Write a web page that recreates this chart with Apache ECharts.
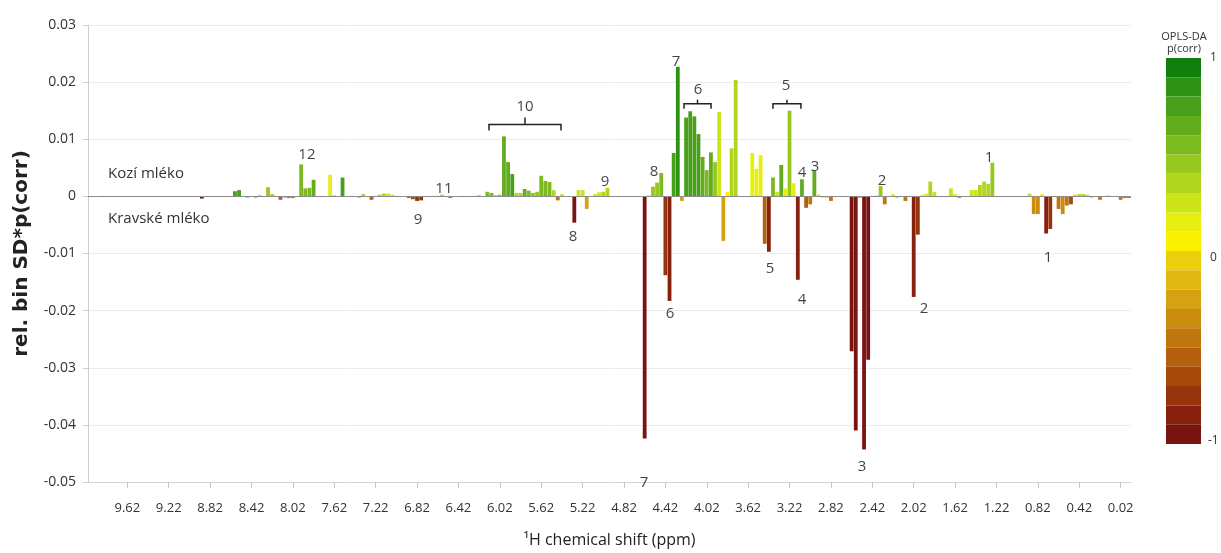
<!DOCTYPE html>
<html><head><meta charset="utf-8">
<script src="https://cdn.jsdelivr.net/npm/echarts@6/dist/echarts.min.js"></script>
<style>html,body{margin:0;padding:0;background:#fff}#c{width:1221px;height:553px}</style>
</head><body><div id="c"></div>
<script>
// bins of 0.04 ppm, from 9.98 ppm (left) down to -0.06 ppm (right)
const binStart = 9.98, binStep = 0.04, binCount = 252;
const categories = [];
for (let i = 0; i < binCount; i++) categories.push((binStart - binStep * i).toFixed(2));

const xTickLabels = ['9.62','9.22','8.82','8.42','8.02','7.62','7.22','6.82','6.42','6.02','5.62','5.22','4.82','4.42','4.02','3.62','3.22','2.82','2.42','2.02','1.62','1.22','0.82','0.42','0.02'];

// rel. bin SD * p(corr), one value per bin
const values = [
  0, -0.0001, 0, 0.0001, 0, -0.0001, 0, -0.0001, 0, 0.0001,
  0, -0.0001, 0, 0.0001, 0, 0, 0, 0, 0, 0,
  0, 0, 0, 0, 0, 0, -0.0001, -0.0004, 0, 0,
  0, 0, 0, 0, 0, 0.0009, 0.0011, 0.0001, -0.0002, -0.0001,
  -0.0002, 0.0002, -0.0001, 0.0016, 0.0004, 0.0001, -0.0006, -0.0002, -0.0003, -0.0003,
  0, 0.0056, 0.0014, 0.0015, 0.0029, 0, 0.0001, 0, 0.0038, 0.0002,
  0, 0.0033, 0, 0.0001, 0, -0.0002, 0.0004, 0, -0.0006, 0.0001,
  0.0003, 0.0005, 0.0005, 0.0003, 0.0001, 0, -0.0001, -0.0003, -0.0005, -0.0008,
  -0.0007, 0, 0, 0.0001, 0.0001, 0.0003, 0, -0.0003, 0, 0,
  0.0001, 0, 0.0001, 0.0001, 0.0002, 0, 0.0008, 0.0006, 0.0002, 0.0003,
  0.0105, 0.006, 0.0039, 0.0006, 0.0006, 0.0013, 0.001, 0.0006, 0.0008, 0.0036,
  0.0027, 0.0025, 0.0011, -0.0007, 0.0004, 0, -0.0001, -0.0046, 0.0011, 0.0011,
  -0.0022, 0.0001, 0.0004, 0.0007, 0.0008, 0.0015, 0, 0, 0, 0,
  0, 0, 0, 0, -0.0424, 0.0002, 0.0017, 0.0024, 0.0041, -0.0138,
  -0.0183, 0.0076, 0.0227, -0.0008, 0.0138, 0.0149, 0.014, 0.0109, 0.0069, 0.0046,
  0.0077, 0.006, 0.0148, -0.0078, 0.0008, 0.0084, 0.0204, 0, 0, 0,
  0.0076, 0.0048, 0.0072, -0.0083, -0.0097, 0.0033, 0.0008, 0.0055, 0.0014, 0.015,
  0.0023, -0.0146, 0.003, -0.002, -0.0014, 0.0045, 0.0003, -0.0002, -0.0002, -0.0008,
  0, -0.0001, 0, 0, -0.0271, -0.041, -0.0003, -0.0443, -0.0286, 0.0001,
  0.0002, 0.0018, -0.0014, 0.0001, 0.0004, -0.0002, 0.0001, -0.0008, 0.0001, -0.0176,
  -0.0067, 0.0003, 0.0005, 0.0026, 0.0008, 0.0001, 0, 0.0001, 0.0014, 0.0004,
  -0.0003, 0, 0, 0.0011, 0.0011, 0.002, 0.0026, 0.0022, 0.0059, 0,
  0, 0, 0, 0, 0, 0, 0, 0.0005, -0.0031, -0.0031,
  0.0004, -0.0065, -0.0057, -0.0001, -0.0022, -0.0031, -0.0016, -0.0014, 0.0003, 0.0004,
  0.0004, 0.0003, -0.0002, 0, -0.0006, 0, 0.0002, 0, 0, -0.0006,
  -0.0003, -0.0003
];

// OPLS-DA p(corr), one value per bin (drives bar colour)
const pcorr = [
  0, -0.6, 0, 0.3, 0, -0.6, 0, -0.6, 0, 0.3,
  0, -0.6, 0, 0.3, 0, 0, 0, 0, 0, 0,
  0, 0, 0, 0, 0, 0, -0.7, -0.85, 0, 0,
  0, 0, 0, 0, 0, 0.72, 0.72, 0.3, -0.4, -0.3,
  -0.4, 0.4, -0.3, 0.5, 0.4, 0.3, -0.5, -0.4, -0.45, -0.4,
  0, 0.6, 0.55, 0.55, 0.65, 0, 0.3, 0, 0.12, 0.3,
  0, 0.75, 0, 0.3, 0, -0.4, 0.4, 0, -0.55, 0.3,
  0.4, 0.35, 0.3, 0.25, 0.3, 0, -0.3, -0.5, -0.6, -0.7,
  -0.75, 0, 0, 0.3, 0.3, 0.35, 0, -0.4, 0, 0,
  0.3, 0, 0.3, 0.3, 0.4, 0, 0.55, 0.55, 0.4, 0.5,
  0.62, 0.62, 0.72, 0.4, 0.4, 0.7, 0.6, 0.45, 0.5, 0.55,
  0.55, 0.55, 0.4, -0.45, 0.3, 0, -0.3, -0.9, 0.3, 0.3,
  -0.2, 0.2, 0.3, 0.3, 0.35, 0.4, 0, 0, 0, 0,
  0, 0, 0, 0, -0.9, 0.15, 0.45, 0.5, 0.6, -0.75,
  -0.85, 0.78, 0.88, -0.2, 0.8, 0.78, 0.78, 0.72, 0.68, 0.55,
  0.7, 0.5, 0.25, -0.25, 0.1, 0.4, 0.38, 0, 0, 0,
  0.15, 0.12, 0.15, -0.55, -0.85, 0.6, 0.25, 0.7, 0.2, 0.45,
  0.15, -0.88, 0.65, -0.55, -0.45, 0.68, 0.3, -0.1, -0.1, -0.4,
  0, -0.3, 0, 0, -0.9, -0.92, -0.1, -0.93, -0.9, 0.1,
  0.1, 0.45, -0.45, 0.1, 0.15, -0.2, 0.1, -0.4, 0.1, -0.88,
  -0.75, 0.1, 0.15, 0.4, 0.3, 0.1, 0, 0.1, 0.3, 0.2,
  -0.2, 0, 0, 0.25, 0.25, 0.35, 0.35, 0.35, 0.45, 0,
  0, 0, 0, 0, 0, 0, 0, 0.3, -0.3, -0.3,
  0.1, -0.85, -0.72, -0.3, -0.4, -0.35, -0.4, -0.6, 0.3, 0.35,
  0.35, 0.3, -0.2, 0, -0.4, 0, 0.2, 0, 0, -0.4,
  -0.4, -0.4
];

// peak number labels: [ppm, value, text]
const peakLabels = [
  [7.884, 0.0073, '12'], [6.560, 0.0014, '11'], [5.777, 0.0157, '10'],
  [6.811, -0.0041, '9'], [5.004, 0.0026, '9'],
  [4.530, 0.0044, '8'], [5.313, -0.0070, '8'],
  [4.318, 0.0235, '7'], [4.627, -0.0502, '7'],
  [4.105, 0.0186, '6'], [4.376, -0.0205, '6'],
  [3.255, 0.0193, '5'], [3.409, -0.0126, '5'],
  [3.100, 0.0042, '4'], [3.100, -0.0181, '4'],
  [2.974, 0.0052, '3'], [2.520, -0.0474, '3'],
  [2.327, 0.0028, '2'], [1.921, -0.0197, '2'],
  [1.293, 0.0068, '1'], [0.722, -0.0107, '1']
];

// brackets: [ppm start, ppm end, line value, leg value, tick value]
const brackets = [
  [6.125, 5.429, 0.01259, 0.01155, 0.0138],
  [4.240, 3.979, 0.01623, 0.01536, 0.01693],
  [3.380, 3.110, 0.01623, 0.01536, 0.01693]
];

// colour scale, from p(corr) = -1 to +1 (20 steps)
const colorSteps = [
  '#7a1410', '#88200e', '#97340c', '#a64a0c', '#b4600c',
  '#c0760e', '#cb8c10', '#d6a214', '#e0b814', '#ebcf0c',
  '#fbf200', '#e6ef10', '#cce41a', '#b2d61e', '#98c820',
  '#7cba20', '#62ac1e', '#489f1a', '#2e9214', '#107f0c'
];
const pieces = colorSteps.map((c, k) => ({ gt: -1 + 0.1 * k - (k === 0 ? 0.001 : 0), lte: -1 + 0.1 * (k + 1), color: c }));

const chart = echarts.init(document.getElementById('c'));
const font = 'Open Sans';
const showTick = (i, v) => xTickLabels.includes(v);

chart.setOption({
  animation: false,
  grid: { left: 88, right: 90, top: 25, bottom: 67 },
  xAxis: [{
    type: 'category', data: categories, boundaryGap: true,
    axisLine: { show: true, onZero: false, lineStyle: { color: '#d4d4d4' } },
    axisTick: { show: true, alignWithLabel: true, interval: showTick, length: 6, lineStyle: { color: '#c8c8c8' } },
    axisLabel: { interval: showTick, margin: 20, fontSize: 13, color: '#333', fontFamily: font },
    splitLine: { show: false },
    name: '\u00b9H chemical shift (ppm)', nameLocation: 'middle', nameGap: 50,
    nameTextStyle: { fontSize: 16, color: '#222', fontFamily: font }
  }, {
    type: 'value', min: -0.08, max: 10.0, inverse: true, show: false,
    splitLine: { show: false }, axisLine: { show: false, onZero: false }
  }],
  yAxis: {
    type: 'value', min: -0.05, max: 0.03, interval: 0.01,
    axisLine: { show: true, onZero: false, lineStyle: { color: '#cfcfcf' } },
    axisTick: { show: true, length: 5, lineStyle: { color: '#cfcfcf' } },
    axisLabel: { fontSize: 14, color: '#333', margin: 12, fontFamily: font },
    splitLine: { lineStyle: { color: '#ececec' } },
    name: 'rel. bin SD*p(corr)', nameLocation: 'middle', nameGap: 56,
    nameTextStyle: { fontSize: 20, fontWeight: 'bold', color: '#222', fontFamily: 'DejaVu Sans' }
  },
  visualMap: {
    type: 'piecewise', dimension: 2, seriesIndex: 0, pieces: pieces,
    orient: 'vertical', right: 20, top: 58, itemWidth: 35, itemHeight: 19.3, itemGap: 0,
    itemSymbol: 'rect', showLabel: false, padding: 0, selectedMode: false, hoverLink: false
  },
  graphic: [
    { type: 'text', x: 108, y: 174, style: { text: 'Kozí mléko', fontSize: 15, fill: '#333', fontFamily: font, verticalAlign: 'middle' } },
    { type: 'text', x: 108, y: 219, style: { text: 'Kravské mléko', fontSize: 15, fill: '#333', fontFamily: font, verticalAlign: 'middle' } },
    { type: 'text', x: 1184, y: 37, style: { text: 'OPLS-DA', fontSize: 11, fill: '#333', fontFamily: font, align: 'center', verticalAlign: 'middle' } },
    { type: 'text', x: 1184, y: 49, style: { text: 'p(corr)', fontSize: 11, fill: '#333', fontFamily: font, align: 'center', verticalAlign: 'middle' } },
    { type: 'text', x: 1210, y: 58, style: { text: '1', fontSize: 12, fill: '#333', fontFamily: font, verticalAlign: 'middle' } },
    { type: 'text', x: 1210, y: 258, style: { text: '0', fontSize: 12, fill: '#333', fontFamily: font, verticalAlign: 'middle' } },
    { type: 'text', x: 1208, y: 441, style: { text: '-1', fontSize: 12, fill: '#333', fontFamily: font, verticalAlign: 'middle' } }
  ],
  series: [{
    type: 'bar',
    data: values.map((v, i) => [i, v, pcorr[i]]),
    barCategoryGap: '8%',
    markLine: {
      silent: true, symbol: 'none', label: { show: false },
      lineStyle: { color: '#8c8c8c', width: 1.2, type: 'solid' },
      data: [{ yAxis: 0 }]
    }
  }, {
    type: 'scatter', xAxisIndex: 1, yAxisIndex: 0, silent: true, clip: false,
    symbolSize: 0,
    data: peakLabels.map(a => ({ value: [a[0], a[1]], label: { formatter: a[2] } })),
    label: { show: true, position: 'inside', fontSize: 15, color: '#111', fontFamily: font }
  }, {
    type: 'custom', xAxisIndex: 1, yAxisIndex: 0, silent: true,
    data: brackets,
    renderItem: function (params, api) {
      const a = api.coord([api.value(0), api.value(2)]);
      const b = api.coord([api.value(1), api.value(2)]);
      const aLeg = api.coord([api.value(0), api.value(3)]);
      const bLeg = api.coord([api.value(1), api.value(3)]);
      const tick = api.coord([api.value(0), api.value(4)]);
      const mx = (a[0] + b[0]) / 2;
      return {
        type: 'group', children: [
          { type: 'polyline', shape: { points: [aLeg, a, b, bLeg] }, style: { stroke: '#222', lineWidth: 1.5, fill: null } },
          { type: 'line', shape: { x1: mx, y1: a[1], x2: mx, y2: tick[1] }, style: { stroke: '#222', lineWidth: 1.5 } }
        ]
      };
    }
  }]
});
</script></body></html>
